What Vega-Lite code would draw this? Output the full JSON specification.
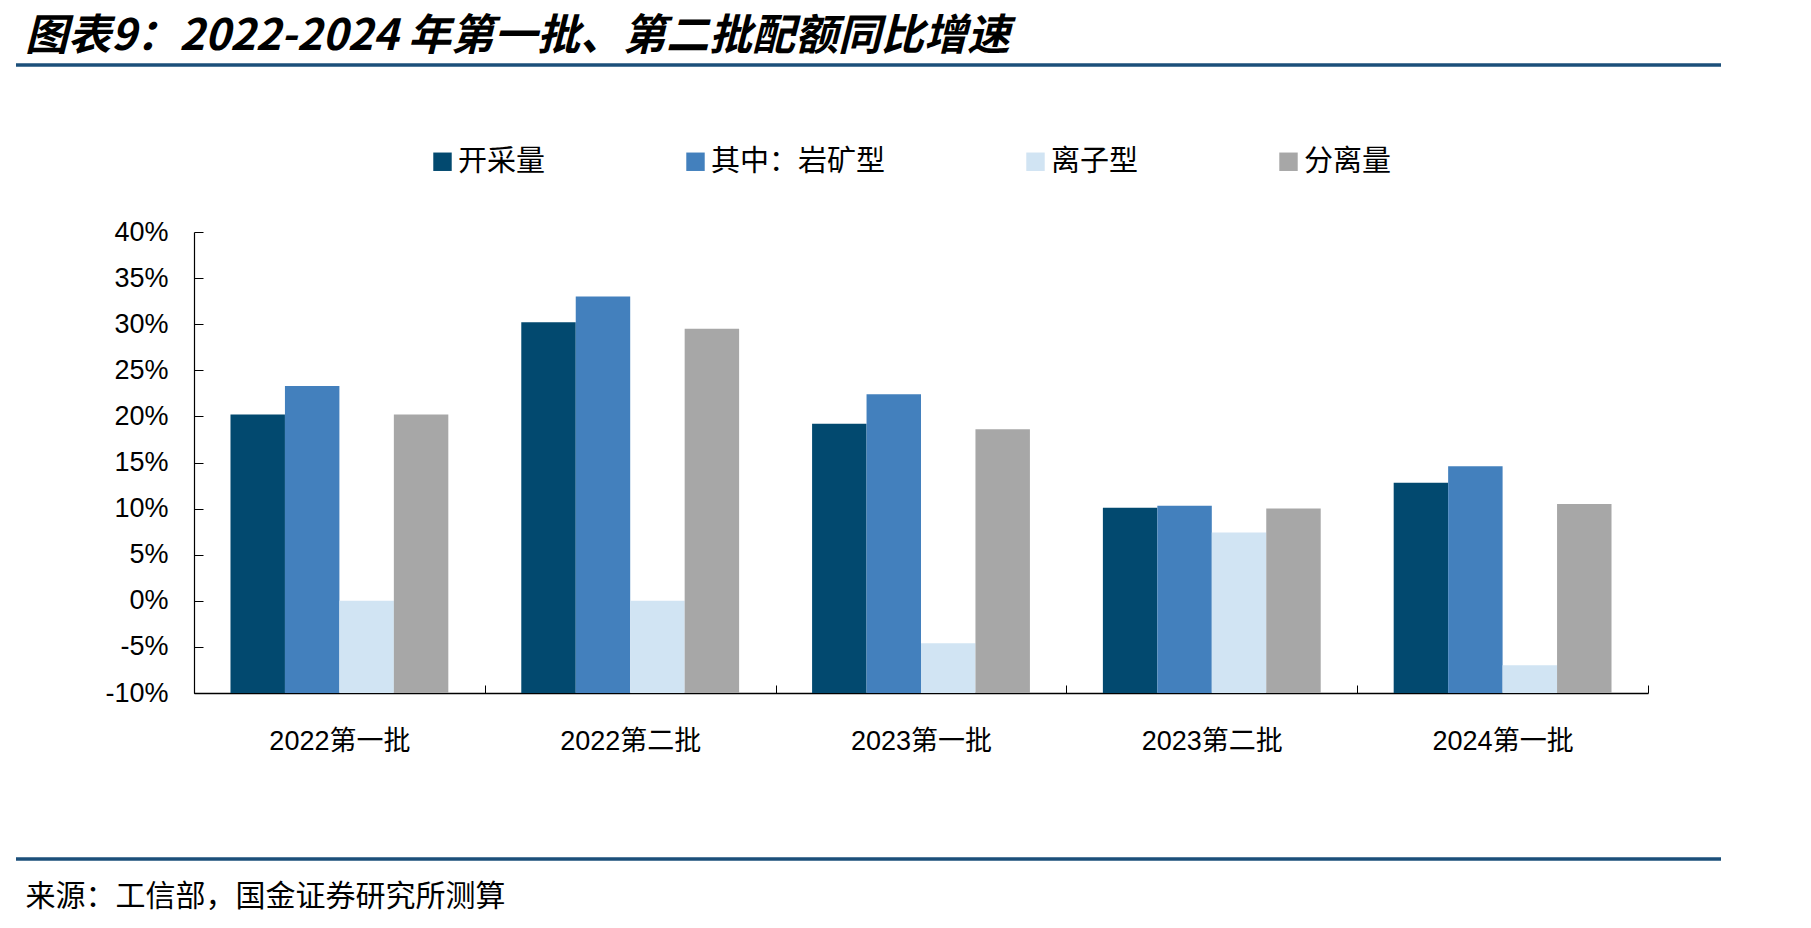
{
  "$schema": "https://vega.github.io/schema/vega-lite/v6.json",
  "width": 1454,
  "height": 461,
  "autosize": "none",
  "padding": {"left": 194, "top": 232, "right": 163, "bottom": 235},
  "background": "white",
  "title": {
    "text": "图表9：2022-2024 年第一批、第二批配额同比增速",
    "anchor": "start",
    "frame": "group",
    "dx": -169,
    "dy": 0,
    "font": "Liberation Sans Narrow, Noto Sans CJK SC",
    "fontSize": 43,
    "fontWeight": "bold",
    "fontStyle": "italic",
    "color": "black"
  },
  "config": {"view": {"stroke": null}},
  "data": {
    "values": [
      {"batch": "2022第一批", "series": "开采量", "growth": 0.202},
      {"batch": "2022第一批", "series": "其中：岩矿型", "growth": 0.233},
      {"batch": "2022第一批", "series": "离子型", "growth": 0.0},
      {"batch": "2022第一批", "series": "分离量", "growth": 0.202},
      {"batch": "2022第二批", "series": "开采量", "growth": 0.302},
      {"batch": "2022第二批", "series": "其中：岩矿型", "growth": 0.33},
      {"batch": "2022第二批", "series": "离子型", "growth": 0.0},
      {"batch": "2022第二批", "series": "分离量", "growth": 0.295},
      {"batch": "2023第一批", "series": "开采量", "growth": 0.192},
      {"batch": "2023第一批", "series": "其中：岩矿型", "growth": 0.224},
      {"batch": "2023第一批", "series": "离子型", "growth": -0.046},
      {"batch": "2023第一批", "series": "分离量", "growth": 0.186},
      {"batch": "2023第二批", "series": "开采量", "growth": 0.101},
      {"batch": "2023第二批", "series": "其中：岩矿型", "growth": 0.103},
      {"batch": "2023第二批", "series": "离子型", "growth": 0.074},
      {"batch": "2023第二批", "series": "分离量", "growth": 0.1},
      {"batch": "2024第一批", "series": "开采量", "growth": 0.128},
      {"batch": "2024第一批", "series": "其中：岩矿型", "growth": 0.146},
      {"batch": "2024第一批", "series": "离子型", "growth": -0.07},
      {"batch": "2024第一批", "series": "分离量", "growth": 0.105}
    ]
  },
  "layer": [
    {
      "mark": {"type": "bar"},
      "encoding": {
        "x": {
          "field": "batch",
          "type": "nominal",
          "sort": null,
          "scale": {"paddingInner": 0, "paddingOuter": 0},
          "axis": {
            "tickBand": "extent",
            "tickSize": -8,
            "tickColor": "black",
            "domainColor": "black",
            "domainWidth": 1.5,
            "labelAngle": 0,
            "labelFont": "Liberation Sans, Noto Sans CJK SC",
            "labelFontSize": 27,
            "labelColor": "black",
            "labelPadding": 43,
            "title": "来源：工信部，国金证券研究所测算",
            "titleX": -169,
            "titleY": 203,
            "titleAlign": "left",
            "titleBaseline": "middle",
            "titleFont": "Noto Sans CJK SC",
            "titleFontSize": 30,
            "titleFontWeight": "normal",
            "titleColor": "black"
          }
        },
        "xOffset": {
          "field": "series",
          "sort": ["开采量", "其中：岩矿型", "离子型", "分离量"],
          "scale": {"paddingInner": 0, "paddingOuter": 0.67}
        },
        "y": {
          "field": "growth",
          "type": "quantitative",
          "scale": {"domain": [-0.1, 0.4], "nice": false, "zero": false},
          "axis": {
            "values": [-0.1, -0.05, 0, 0.05, 0.1, 0.15, 0.2, 0.25, 0.3, 0.35, 0.4],
            "labelExpr": "round(datum.value * 100) + '%'",
            "grid": false,
            "title": null,
            "tickSize": -9,
            "tickColor": "black",
            "domainColor": "black",
            "domainWidth": 1.2,
            "labelFont": "Liberation Sans",
            "labelFontSize": 27,
            "labelColor": "black",
            "labelPadding": 35,
            "labelOverlap": false,
            "labelFlush": false
          }
        },
        "y2": {"datum": -0.1},
        "color": {
          "field": "series",
          "type": "nominal",
          "scale": {
            "domain": ["开采量", "其中：岩矿型", "离子型", "分离量"],
            "range": ["#02496F", "#4380BD", "#D1E4F3", "#A7A7A7"]
          },
          "legend": {
            "orient": "none",
            "legendX": 234,
            "legendY": -85,
            "direction": "horizontal",
            "columns": 4,
            "columnPadding": 135,
            "title": null,
            "symbolType": "square",
            "symbolSize": 340,
            "symbolStrokeWidth": 0,
            "symbolOpacity": 1,
            "labelFont": "Noto Sans CJK SC",
            "labelFontSize": 29,
            "labelColor": "black",
            "labelOffset": 1,
            "labelLimit": 400
          }
        }
      }
    },
    {
      "data": {"values": [{}]},
      "mark": {"type": "rule", "color": "#1B4F7A", "strokeWidth": 3.5},
      "encoding": {"x": {"value": -178}, "x2": {"value": 1527}, "y": {"value": -167}}
    },
    {
      "data": {"values": [{}]},
      "mark": {"type": "rule", "color": "#1B4F7A", "strokeWidth": 3.5},
      "encoding": {"x": {"value": -178}, "x2": {"value": 1527}, "y": {"value": 627}}
    }
  ]
}
